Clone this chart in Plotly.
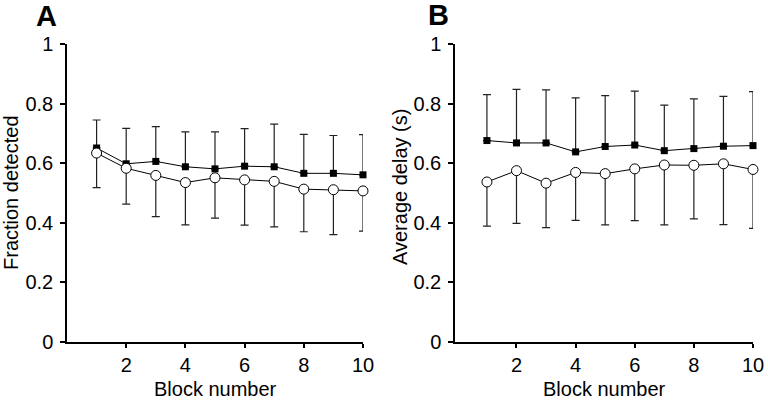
import plotly.graph_objects as go

blocks = [1, 2, 3, 4, 5, 6, 7, 8, 9, 10]

# Panel A: Fraction detected
a_filled = [0.651, 0.598, 0.606, 0.588, 0.581, 0.590, 0.588, 0.566, 0.566, 0.561]
a_filled_upper = [0.745, 0.717, 0.723, 0.705, 0.705, 0.716, 0.731, 0.697, 0.693, 0.696]
a_open = [0.634, 0.583, 0.559, 0.535, 0.551, 0.544, 0.539, 0.513, 0.511, 0.507]
a_open_lower = [0.518, 0.463, 0.421, 0.393, 0.416, 0.392, 0.386, 0.370, 0.360, 0.372]

# Panel B: Average delay (s)
b_filled = [0.676, 0.668, 0.668, 0.638, 0.656, 0.661, 0.642, 0.649, 0.657, 0.659]
b_filled_upper = [0.830, 0.848, 0.846, 0.819, 0.827, 0.842, 0.795, 0.816, 0.824, 0.840]
b_open = [0.537, 0.575, 0.533, 0.569, 0.565, 0.581, 0.594, 0.593, 0.598, 0.579]
b_open_lower = [0.389, 0.398, 0.384, 0.408, 0.393, 0.407, 0.393, 0.413, 0.394, 0.381]

x_ticks = [2, 4, 6, 8, 10]
y_ticks = [0, 0.2, 0.4, 0.6, 0.8, 1]
y_ticklabels = ["0", "0.2", "0.4", "0.6", "0.8", "1"]

FONT = "Liberation Sans, Arial, sans-serif"
W, H = 768, 401

fig = go.Figure()

def add_panel(xa, ya, filled, upper, opn, lower):
    up = [u - v for u, v in zip(upper, filled)]
    dn = [v - l for v, l in zip(opn, lower)]
    fig.add_trace(go.Scatter(
        x=blocks, y=filled, mode="lines+markers", xaxis=xa, yaxis=ya,
        line=dict(color="black", width=1),
        marker=dict(symbol="square", size=7, color="black"),
        error_y=dict(type="data", symmetric=False, array=up,
                     arrayminus=[0] * len(up), color="#222", thickness=1.2, width=4),
        cliponaxis=False, showlegend=False))
    fig.add_trace(go.Scatter(
        x=blocks, y=opn, mode="lines+markers", xaxis=xa, yaxis=ya,
        line=dict(color="black", width=1),
        marker=dict(symbol="circle", size=10, color="white",
                    line=dict(color="black", width=1)),
        error_y=dict(type="data", symmetric=False, array=[0] * len(dn),
                     arrayminus=dn, color="#222", thickness=1.2, width=4),
        cliponaxis=False, showlegend=False))

add_panel("x", "y", a_filled, a_filled_upper, a_open, a_open_lower)
add_panel("x2", "y2", b_filled, b_filled_upper, b_open, b_open_lower)

ax_common = dict(showline=True, linecolor="black", linewidth=1.5,
                 ticks="outside", tickwidth=1.5, tickcolor="black",
                 showgrid=False, zeroline=False, automargin=False,
                 tickfont=dict(family=FONT, size=20, color="black"))

bottom = (H - 342) / H
top = (H - 44) / H

fig.update_layout(
    width=W, height=H,
    margin=dict(l=0, r=0, t=0, b=0),
    paper_bgcolor="white", plot_bgcolor="white",
    xaxis=dict(domain=[67 / W, 363 / W], range=[0, 10], tickvals=x_ticks,
               anchor="y", ticklen=4, **ax_common),
    yaxis=dict(domain=[bottom, top], range=[0, 1], tickvals=y_ticks,
               ticktext=y_ticklabels, anchor="x", ticklen=5,
               ticklabelstandoff=3, **ax_common),
    xaxis2=dict(domain=[455 / W, 753 / W], range=[-0.08, 10], tickvals=x_ticks,
                anchor="y2", ticklen=4, **ax_common),
    yaxis2=dict(domain=[bottom, top], range=[0, 1], tickvals=y_ticks,
                ticktext=y_ticklabels, anchor="x2", ticklen=5,
                ticklabelstandoff=3, **ax_common),
)

def ann(text, x, y, size=20, bold=False, angle=0):
    fig.add_annotation(text=f"<b>{text}</b>" if bold else text,
                       x=x / W, y=1 - y / H, xref="paper", yref="paper",
                       xanchor="center", yanchor="middle", showarrow=False,
                       textangle=angle,
                       font=dict(family=FONT, size=size, color="black"))

ann("Block number", 215, 389)
ann("Block number", 604, 389)
ann("Fraction detected", 11, 193, angle=-90)
ann("Average delay (s)", 400, 187, angle=-90)
ann("A", 46.5, 16, size=29, bold=True)
ann("B", 438, 15, size=29, bold=True)

fig.write_html("out.html")
